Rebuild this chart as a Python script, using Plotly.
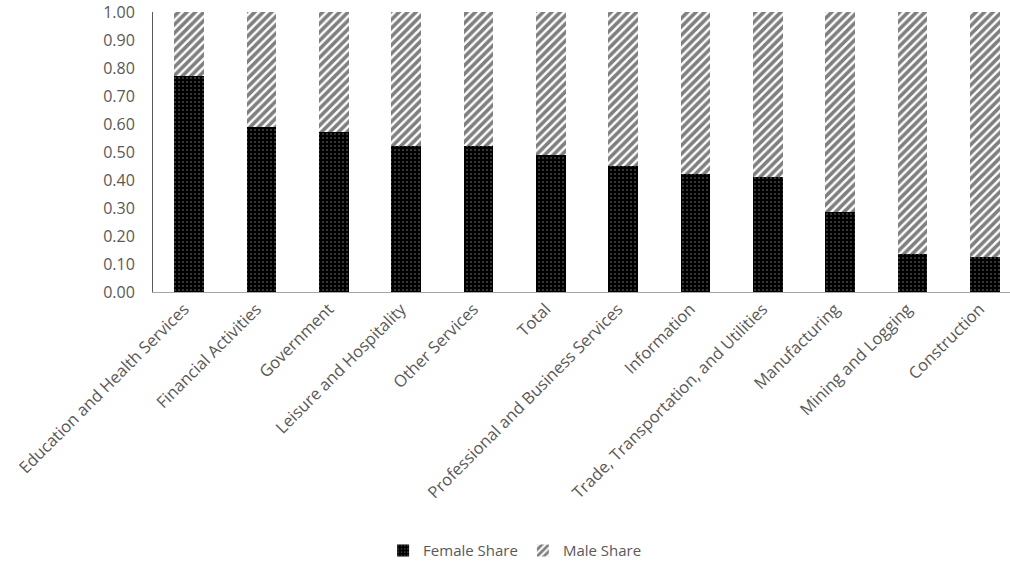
import plotly.graph_objects as go

categories = [
    "Education and Health Services", "Financial Activities", "Government",
    "Leisure and Hospitality", "Other Services", "Total",
    "Professional and Business Services", "Information",
    "Trade, Transportation, and Utilities", "Manufacturing",
    "Mining and Logging", "Construction",
]
female_share = [0.77, 0.59, 0.57, 0.52, 0.52, 0.49, 0.45, 0.42, 0.41, 0.285, 0.135, 0.125]
male_share = [round(1 - v, 3) for v in female_share]
y_ticks = [0.0, 0.1, 0.2, 0.3, 0.4, 0.5, 0.6, 0.7, 0.8, 0.9, 1.0]

font_family = "Open Sans, sans-serif"
gray = "#595959"

fig = go.Figure()
fig.add_trace(go.Bar(
    x=categories, y=female_share, name="Female Share",
    marker=dict(color="black", line=dict(width=0),
                pattern=dict(shape=".", bgcolor="black", fgcolor="white",
                             size=4, solidity=0.12)),
))
fig.add_trace(go.Bar(
    x=categories, y=male_share, name="Male Share",
    marker=dict(color="white", line=dict(width=0),
                pattern=dict(shape="/", bgcolor="white", fgcolor="black",
                             size=6, solidity=0.6)),
))

fig.update_layout(
    barmode="stack",
    bargap=0.59,
    width=1010, height=562,
    margin=dict(l=153, r=0, t=12, b=270),
    plot_bgcolor="white", paper_bgcolor="white",
    font=dict(family=font_family, size=15, color=gray),
    showlegend=True,
    legend=dict(orientation="h", xref="container", yref="container",
                traceorder="normal",
                x=0.51, xanchor="center", y=0.02, yanchor="middle",
                font=dict(size=15, color=gray)),
    xaxis=dict(
        range=[-0.5, 11.35], tickangle=-45, showline=True,
        linecolor="#a6a6a6", linewidth=1, ticks="", showgrid=False,
        ticklabelshift=-5,
        tickfont=dict(size=16.5, color=gray),
    ),
    yaxis=dict(
        range=[0, 1.0], tickvals=y_ticks, tickformat=".2f", showline=True,
        linecolor="#595959", linewidth=1, ticks="", showgrid=False,
        zeroline=False, ticklabelstandoff=14,
        tickfont=dict(size=16, color=gray),
    ),
)

fig.write_html("out.html")
